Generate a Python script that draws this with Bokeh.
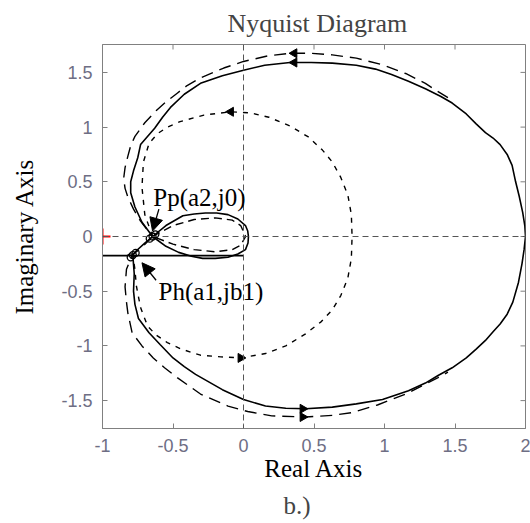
import math
from bokeh.plotting import figure
from bokeh.models import Range1d, Span, Label, Arrow, NormalHead, Title, FixedTicker
from bokeh.embed import file_html
from bokeh.resources import INLINE

# ---- data ----
x_ticks = [-1, -0.5, 0, 0.5, 1, 1.5, 2]
x_tick_labels = ["-1", "-0.5", "0", "0.5", "1", "1.5", "2"]
y_ticks = [-1.5, -1, -0.5, 0, 0.5, 1, 1.5]
y_tick_labels = ["-1.5", "-1", "-0.5", "0", "0.5", "1", "1.5"]

# solid curve: upper big loop (from (2,0) to Pp)
solid_up_x = [2.0, 1.995, 1.98, 1.955, 1.93, 1.905, 1.87, 1.82, 1.77, 1.716, 1.65, 1.58, 1.48, 1.40, 1.29, 1.17, 1.05, 0.936, 0.80, 0.63, 0.48, 0.33, 0.15, 0.0, -0.15, -0.305, -0.42, -0.518, -0.574, -0.63, -0.69, -0.73, -0.75, -0.78, -0.80, -0.80, -0.77, -0.72, -0.645]
solid_up_y = [0.0, 0.10, 0.22, 0.37, 0.50, 0.65, 0.75, 0.84, 0.90, 0.95, 1.03, 1.12, 1.22, 1.28, 1.35, 1.42, 1.48, 1.53, 1.565, 1.585, 1.59, 1.59, 1.565, 1.52, 1.47, 1.40, 1.30, 1.18, 1.09, 0.99, 0.90, 0.84, 0.72, 0.60, 0.50, 0.40, 0.27, 0.13, 0.0]
# solid lobe (Pp -> right end -> Pp)
solid_lobe_x = [-0.645, -0.55, -0.46, -0.37, -0.29, -0.20, -0.11, -0.04, 0.014, 0.032, 0.035, 0.030, 0.014, -0.04, -0.11, -0.19, -0.27, -0.35, -0.43, -0.55, -0.645]
solid_lobe_y = [0.0, -0.09, -0.145, -0.18, -0.20, -0.20, -0.19, -0.16, -0.12, -0.06, 0.0, 0.05, 0.10, 0.16, 0.20, 0.215, 0.215, 0.205, 0.19, 0.10, 0.0]
# solid lower big loop (Pp -> Ph -> (2,0))
solid_lo_x = [-0.645, -0.70, -0.76, -0.785, -0.775, -0.78, -0.77, -0.745, -0.67, -0.59, -0.50, -0.42, -0.34, -0.15, 0.0, 0.156, 0.30, 0.44, 0.63, 0.80, 0.986, 1.17, 1.29, 1.38, 1.48, 1.58, 1.65, 1.716, 1.77, 1.82, 1.87, 1.91, 1.95, 1.975, 1.99, 2.0]
solid_lo_y = [0.0, -0.06, -0.13, -0.17, -0.34, -0.50, -0.62, -0.75, -0.88, -0.99, -1.11, -1.19, -1.26, -1.40, -1.49, -1.55, -1.57, -1.575, -1.56, -1.53, -1.49, -1.41, -1.34, -1.27, -1.20, -1.11, -1.03, -0.95, -0.87, -0.80, -0.71, -0.60, -0.42, -0.25, -0.12, 0.0]
# straight solid line at the left
solid_line_x = [-1.0, 0.0]
solid_line_y = [-0.175, -0.175]

# long-dashed curve
dash_up_x = [1.45, 1.36, 1.29, 1.15, 0.986, 0.80, 0.63, 0.475, 0.33, 0.17, 0.0, -0.14, -0.305, -0.40, -0.47, -0.55, -0.62, -0.70, -0.77, -0.80, -0.82, -0.84, -0.85, -0.84, -0.82, -0.78, -0.73, -0.645]
dash_up_y = [1.27, 1.34, 1.40, 1.49, 1.57, 1.63, 1.66, 1.675, 1.675, 1.65, 1.60, 1.54, 1.45, 1.38, 1.31, 1.23, 1.15, 1.04, 0.915, 0.83, 0.735, 0.63, 0.53, 0.44, 0.36, 0.25, 0.14, 0.0]
dash_lobe_x = [-0.645, -0.50, -0.35, -0.20, -0.08, -0.02, 0.015, -0.02, -0.08, -0.20, -0.35, -0.50, -0.645]
dash_lobe_y = [0.0, 0.10, 0.155, 0.17, 0.15, 0.10, 0.0, -0.08, -0.12, -0.14, -0.12, -0.07, 0.0]
dash_lo_x = [-0.645, -0.72, -0.79, -0.83, -0.84, -0.83, -0.82, -0.79, -0.72, -0.64, -0.56, -0.47, -0.305, -0.11, 0.03, 0.20, 0.44, 0.63, 0.77, 0.95, 1.15, 1.29, 1.38, 1.45]
dash_lo_y = [0.0, -0.10, -0.17, -0.30, -0.46, -0.60, -0.70, -0.88, -1.00, -1.11, -1.20, -1.29, -1.44, -1.55, -1.60, -1.64, -1.65, -1.635, -1.61, -1.54, -1.44, -1.35, -1.29, -1.24]

# short-dashed (dotted) curve
dot_x = [-0.645, -0.70, -0.72, -0.71, -0.67, -0.61, -0.54, -0.45, -0.28, -0.09, 0.05, 0.18, 0.33, 0.46, 0.56, 0.63, 0.69, 0.74, 0.765, 0.77, 0.765, 0.74, 0.69, 0.63, 0.55, 0.44, 0.30, 0.156, -0.02, -0.16, -0.305, -0.44, -0.54, -0.62, -0.68, -0.73, -0.76, -0.77, -0.785]
dot_y = [0.0, 0.20, 0.45, 0.68, 0.85, 0.94, 1.00, 1.05, 1.11, 1.14, 1.13, 1.09, 1.01, 0.91, 0.79, 0.68, 0.54, 0.38, 0.20, 0.0, -0.20, -0.38, -0.54, -0.67, -0.78, -0.89, -1.00, -1.07, -1.11, -1.10, -1.085, -1.03, -0.97, -0.90, -0.82, -0.65, -0.45, -0.30, -0.17]

# direction arrows on the curves
arrow_x = [0.36, 0.36, -0.09, 0.42, 0.42, -0.02]
arrow_y = [1.59, 1.675, 1.14, -1.575, -1.65, -1.11]
arrow_dir = ["left", "left", "left", "right", "right", "right"]

# marked points
pp_x, pp_y = -0.645, 0.0
ph_x, ph_y = -0.785, -0.17
crit_x, crit_y = -1.0, 0.0

tick_color = "#6e6e84"
frame_color = "#808080"

x_range = Range1d(-1, 2)
y_range = Range1d(-1.755, 1.755)

p = figure(width=530, height=523, output_backend="svg", toolbar_location=None,
           x_range=x_range, y_range=y_range,
           min_border_left=102, min_border_right=5, min_border_top=44, min_border_bottom=89,
           background_fill_color="white", border_fill_color="white")
p.outline_line_color = frame_color
p.grid.grid_line_color = None

p.title.text = "Nyquist Diagram"
p.title.text_font = "Liberation Serif"
p.title.text_font_size = "26px"
p.title.text_font_style = "normal"
p.title.align = "left"
p.title.offset = 125
p.title.standoff = 13

for ax, ticks, labels in ((p.xaxis[0], x_ticks, x_tick_labels), (p.yaxis[0], y_ticks, y_tick_labels)):
    ax.ticker = FixedTicker(ticks=ticks)
    ax.major_label_overrides = {t: l for t, l in zip(ticks, labels)}
    ax.major_label_text_font = "Liberation Sans"
    ax.major_label_text_font_size = "18px"
    ax.major_label_text_color = tick_color
    ax.major_tick_in = 5
    ax.major_tick_out = 0
    ax.minor_tick_line_color = None
    ax.axis_line_color = frame_color
    ax.major_tick_line_color = frame_color
    ax.axis_label_text_font = "Liberation Serif"
    ax.axis_label_text_font_size = "25px"
    ax.axis_label_text_font_style = "normal"
    ax.axis_label_text_color = "black"

p.xaxis.axis_label = "Real Axis"
p.xaxis.major_label_standoff = 10
p.xaxis.axis_label_standoff = 0
p.yaxis.axis_label = "Imaginary Axis"
p.yaxis.major_label_standoff = 10
p.yaxis.axis_label_standoff = 20

# inward ticks on the top and right edges of the box
p.ray(x=x_ticks, y=[y_range.end] * len(x_ticks), length=5, length_units="screen",
      angle=-math.pi / 2, line_color=frame_color, line_width=1)
p.ray(x=[x_range.end] * len(y_ticks), y=y_ticks, length=5, length_units="screen",
      angle=math.pi, line_color=frame_color, line_width=1)

sub = Title(text="b.)", text_font="Liberation Serif", text_font_size="25px",
            text_font_style="normal", align="left", offset=181)
p.add_layout(sub, "below")

p.add_layout(Span(location=0, dimension="height", line_color="#555555", line_dash="6 4", line_width=1))
p.add_layout(Span(location=0, dimension="width", line_color="#555555", line_dash="6 4", line_width=1))

lw = 1.6
p.line(solid_up_x, solid_up_y, line_color="black", line_width=lw)
p.line(solid_lobe_x, solid_lobe_y, line_color="black", line_width=lw)
p.line(solid_lo_x, solid_lo_y, line_color="black", line_width=lw)
p.line(solid_line_x, solid_line_y, line_color="black", line_width=lw)

p.line(dash_up_x, dash_up_y, line_color="black", line_width=1.4, line_dash="12 7")
p.line(dash_lobe_x, dash_lobe_y, line_color="black", line_width=1.4, line_dash="8 5")
p.line(dash_lo_x, dash_lo_y, line_color="black", line_width=1.4, line_dash="12 7")

p.line(dot_x, dot_y, line_color="black", line_width=1.4, line_dash="5 6")

angles = [math.pi / 2 if d == "left" else -math.pi / 2 for d in arrow_dir]
p.scatter(arrow_x, arrow_y, marker="triangle", size=9, angle=angles,
          fill_color="black", line_color="black")

p.scatter([pp_x, pp_x + 0.02, pp_x - 0.02], [pp_y, pp_y + 0.02, pp_y - 0.02], marker="circle",
          size=7, fill_color=None, line_color="black", line_width=1.3)
p.scatter([ph_x, ph_x + 0.02, ph_x - 0.015], [ph_y, ph_y + 0.02, ph_y - 0.02], marker="circle",
          size=7, fill_color=None, line_color="black", line_width=1.3)

p.add_layout(Label(x=-0.64, y=0.36, text="Pp(a2,j0)", text_font="Liberation Serif",
                   text_font_size="25px", text_color="black", text_baseline="alphabetic"))
p.add_layout(Label(x=-0.603, y=-0.504, text="Ph(a1,jb1)", text_font="Liberation Serif",
                   text_font_size="25px", text_color="black", text_baseline="alphabetic"))

p.add_layout(Arrow(x_start=-0.60, y_start=0.25, x_end=-0.645, y_end=0.05,
                   line_color="black", line_width=1.3,
                   end=NormalHead(size=13, fill_color="black", line_color="black")))
p.add_layout(Arrow(x_start=-0.62, y_start=-0.40, x_end=-0.72, y_end=-0.24,
                   line_color="black", line_width=1.3,
                   end=NormalHead(size=13, fill_color="black", line_color="black")))

# red "+" marker at the critical point (-1, 0)
p.scatter([crit_x], [crit_y], marker="cross", size=16, line_color="red", line_width=2)

open("out.html", "w").write(file_html(p, INLINE))
